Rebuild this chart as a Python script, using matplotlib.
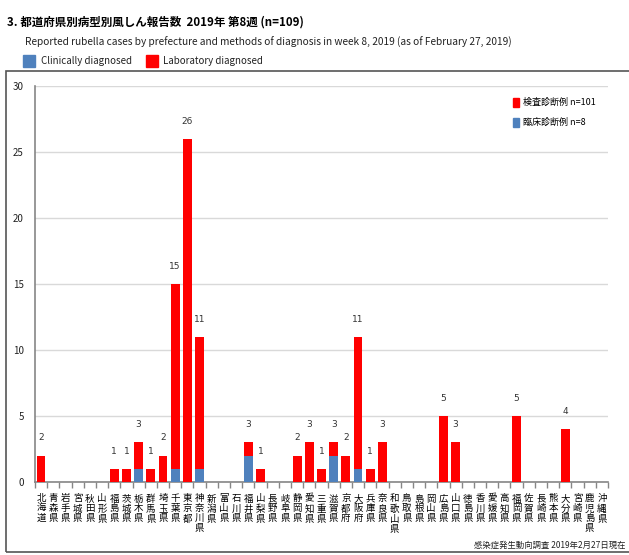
import matplotlib
matplotlib.use("Agg")
import matplotlib.pyplot as plt
from matplotlib.patches import Rectangle
import numpy as np

plt.rcParams['font.family'] = ['Noto Sans CJK JP', 'DejaVu Sans']

prefectures = ["北海道", "青森県", "岩手県", "宮城県", "秋田県", "山形県", "福島県",
               "茨城県", "栃木県", "群馬県", "埼玉県", "千葉県", "東京都", "神奈川県",
               "新潟県", "富山県", "石川県", "福井県", "山梨県", "長野県", "岐阜県",
               "静岡県", "愛知県", "三重県", "滋賀県", "京都府", "大阪府", "兵庫県",
               "奈良県", "和歌山県", "鳥取県", "島根県", "岡山県", "広島県", "山口県",
               "徳島県", "香川県", "愛媛県", "高知県", "福岡県", "佐賀県", "長崎県",
               "熊本県", "大分県", "宮崎県", "鹿児島県", "沖縄県"]
clinical = [0, 0, 0, 0, 0, 0, 0,
            0, 1, 0, 0, 1, 0, 1,
            0, 0, 0, 2, 0, 0, 0,
            0, 0, 0, 2, 0, 1, 0,
            0, 0, 0, 0, 0, 0, 0,
            0, 0, 0, 0, 0, 0, 0,
            0, 0, 0, 0, 0]
laboratory = [2, 0, 0, 0, 0, 0, 1,
              1, 2, 1, 2, 14, 26, 10,
              0, 0, 0, 1, 1, 0, 0,
              2, 3, 1, 1, 2, 10, 1,
              3, 0, 0, 0, 0, 5, 3,
              0, 0, 0, 0, 5, 0, 0,
              0, 4, 0, 0, 0]

RED = "#ff0000"
BLUE = "#4f81bd"

fig = plt.figure(figsize=(6.29, 5.55), dpi=100)
ax = fig.add_axes([35/629, 1-482/555, (608-35)/629, (482-86)/555])

x = np.arange(len(prefectures))
clin = np.array(clinical)
lab = np.array(laboratory)
total = clin + lab
ax.bar(x, clin, width=0.72, color=BLUE, zorder=3)
ax.bar(x, lab, width=0.72, bottom=clin, color=RED, zorder=3)
for xi, t in zip(x, total):
    if t > 0:
        ax.text(xi, t + 1.0, str(t), ha='center', va='bottom', fontsize=6.5,
                color='#333333', family=['DejaVu Sans'])

ax.set_xlim(-0.5, len(prefectures) - 0.5)
ax.set_ylim(0, 30)
ax.set_yticks(range(0, 31, 5))
ax.yaxis.grid(True, color='#d9d9d9', linewidth=1.0, zorder=0)
ax.set_axisbelow(True)
for s in ['top', 'right']:
    ax.spines[s].set_visible(False)
ax.spines['left'].set_color('#868686')
ax.spines['bottom'].set_color('#868686')
ax.spines['left'].set_linewidth(1.2)
ax.spines['bottom'].set_linewidth(1.2)
ax.tick_params(axis='y', length=0, labelsize=7, pad=8, colors='#222222')
ax.set_xticks(x)
ax.set_xticklabels(['\n'.join(p) for p in prefectures], fontsize=6.8,
                   linespacing=1.12, va='top')
ax.tick_params(axis='x', length=0, pad=9)
ax.set_xticks(np.arange(-0.5, len(prefectures), 1), minor=True)
ax.tick_params(axis='x', which='minor', length=4, color='#868686', width=1)

# inner legend
ax.add_patch(Rectangle((0.834, 0.947), 0.0105, 0.0227, transform=ax.transAxes,
                       color=RED, clip_on=False))
ax.text(0.852, 0.958, "検査診断例 n=101", transform=ax.transAxes, fontsize=6.5,
        va='center', ha='left')
ax.add_patch(Rectangle((0.834, 0.897), 0.0105, 0.0227, transform=ax.transAxes,
                       color=BLUE, clip_on=False))
ax.text(0.852, 0.908, "臨床診断例 n=8", transform=ax.transAxes, fontsize=6.5,
        va='center', ha='left')

# titles
fig.text(7/629, 1-22/555, "3. 都道府県別病型別風しん報告数  2019年 第8週 (n=109)",
         fontsize=8.3, fontweight='bold', va='center', ha='left')
fig.text(25/629, 1-42/555,
         "Reported rubella cases by prefecture and methods of diagnosis in week 8, 2019 (as of February 27, 2019)",
         fontsize=7.3, va='center', ha='left', color='#222222')
fig.patches.append(Rectangle((23/629, 1-67/555), 12/629, 12/555, transform=fig.transFigure,
                             color=BLUE, figure=fig))
fig.text(41/629, 1-61/555, "Clinically diagnosed", fontsize=7.0, va='center', ha='left',
         color='#222222')
fig.patches.append(Rectangle((146/629, 1-67/555), 12/629, 12/555, transform=fig.transFigure,
                             color=RED, figure=fig))
fig.text(163/629, 1-61/555, "Laboratory diagnosed", fontsize=7.0, va='center', ha='left',
         color='#222222')

# outer frame
fig.patches.append(Rectangle((6/629, 1-552/555), 640/629, (552-71)/555,
                             transform=fig.transFigure, fill=False,
                             edgecolor='#555555', linewidth=1.2, figure=fig))

fig.text(625/629, 1-545/555, "感染症発生動向調査 2019年2月27日現在", fontsize=6,
         va='center', ha='right', color='#222222')

fig.savefig("out.png", dpi=100)
